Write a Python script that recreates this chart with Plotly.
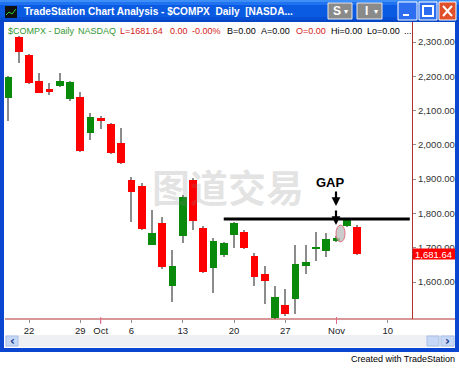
import plotly.graph_objects as go

# ---------------- data ----------------
dates = ["Sep 18", "Sep 19", "Sep 22", "Sep 23", "Sep 24", "Sep 25", "Sep 26",
         "Sep 29", "Sep 30", "Oct 1", "Oct 2", "Oct 3", "Oct 6", "Oct 7", "Oct 8",
         "Oct 9", "Oct 10", "Oct 13", "Oct 14", "Oct 15", "Oct 16", "Oct 17",
         "Oct 20", "Oct 21", "Oct 22", "Oct 23", "Oct 24", "Oct 27", "Oct 28",
         "Oct 29", "Oct 30", "Oct 31", "Nov 3", "Nov 4", "Nov 5"]
opens = [2136, 2314, 2262, 2187, 2163, 2172, 2133, 2139, 2034, 2078, 2061, 2005,
         1898, 1880, 1709, 1773, 1587, 1735, 1898, 1757, 1640, 1679, 1737, 1745,
         1676, 1624, 1494, 1533, 1550, 1648, 1698, 1689, 1721, 1762, 1760]
highs = [2201, 2318, 2264, 2209, 2180, 2211, 2186, 2153, 2094, 2084, 2064, 2048,
         1907, 1888, 1810, 1791, 1694, 1854, 1903, 1764, 1728, 1718, 1776, 1752,
         1684, 1647, 1587, 1579, 1708, 1708, 1747, 1742, 1735, 1785, 1766]
lows = [2070, 2238, 2178, 2150, 2145, 2168, 2128, 1980, 2014, 2045, 1974, 1945,
        1776, 1752, 1708, 1637, 1543, 1715, 1752, 1626, 1567, 1672, 1698, 1696,
        1589, 1536, 1493, 1500, 1507, 1624, 1660, 1674, 1716, 1760, 1680]
closes = [2199, 2272, 2180, 2152, 2155, 2187, 2182, 1983, 2082, 2070, 1976, 1948,
          1862, 1754, 1742, 1645, 1647, 1847, 1778, 1628, 1721, 1713, 1773, 1698,
          1616, 1604, 1555, 1507, 1652, 1658, 1701, 1725, 1728, 1781, 1681.64]

x_tick_idx = [2, 7, 9, 12, 17, 22, 27, 32, 37]
x_tick_text = ["22", "29", "Oct", "6", "13", "20", "27", "Nov", "10"]
y_ticks = [1600, 1700, 1800, 1900, 2000, 2100, 2200, 2300]
y_tick_text = ["1,600.00", "1,700.00", "1,800.00", "1,900.00",
               "2,000.00", "2,100.00", "2,200.00", "2,300.00"]
resistance = 1784
line_start_idx = 21   # Oct 17
gap_idx = 32          # Nov 3
last_price = closes[-1]

# status-line segments: (text, colour, left pixel)
status_text = ["$COMPX - Daily", "NASDAQ", f"L={last_price:.2f}", "0.00", "-0.00%",
               "B=0.00", "A=0.00", "O=0.00", "Hi=0.00", "Lo=0.00", "..."]
status_color = ["#339933", "#339933", "#d42020", "#d42020", "#d42020",
                "#000000", "#000000", "#d42020", "#000000", "#000000", "#000000"]
status_left = [6, 76, 118, 168, 190, 225, 259, 294, 329, 365, 402]

# ---------------- layout helpers ----------------
W, H = 459, 379
ML, MR, MT, MB = 5, 47, 22, 60
PW, PH = W - ML - MR, H - MT - MB


def px(x):
    return (x - ML) / PW


def py(y):
    return (H - MB - y) / PH


GREEN = "#0a8a0a"
RED = "#ff0000"
WICK = "#8c8c8c"
AXRED = "#b03030"
FONT = "Liberation Sans"

ymin = 2300 - (319 - 42) / (240 / 700)
ymax = 2300 + (42 - 22) / (240 / 700)
xmin = 2 + (5 - 29) / 10.25
xmax = 2 + (412 - 29) / 10.25


def price_to_paper(p):
    return (p - ymin) / (ymax - ymin)


def note(x, y, text, size, color, family=FONT, xanchor="center", **kw):
    d = dict(xref="paper", yref="paper", x=x, y=y, text=text, showarrow=False,
             xanchor=xanchor, yanchor="middle",
             font=dict(family=family, size=size, color=color))
    d.update(kw)
    return d


idx = list(range(len(dates)))
colors = [GREEN if c >= o else RED for o, c in zip(opens, closes)]
body_base = [min(o, c) for o, c in zip(opens, closes)]
body_h = [abs(c - o) for o, c in zip(opens, closes)]
wick_h = [h - l for h, l in zip(highs, lows)]

fig = go.Figure()
fig.add_trace(go.Bar(x=idx, y=wick_h, base=lows, width=0.1,
                     marker=dict(color=WICK, line=dict(width=0)),
                     hoverinfo="skip", showlegend=False))
fig.add_trace(go.Bar(x=idx, y=body_h, base=body_base, width=0.74,
                     marker=dict(color=colors, line=dict(width=0)),
                     hoverinfo="skip", showlegend=False))

shapes = []
ann = []

# title bar (gradient imitation)
for (y0, y1, c) in [(0, 2, "#3d8ef7"), (2, 5, "#1f72f0"), (5, 17, "#0a5ae2"),
                    (17, 20, "#0750d6"), (20, 22, "#0646c4")]:
    shapes.append(dict(type="rect", xref="paper", yref="paper",
                       x0=px(0), x1=px(W), y0=py(y1), y1=py(y0),
                       fillcolor=c, line=dict(width=0), layer="above"))
# window borders
border = "#0a46d0"
shapes.append(dict(type="rect", xref="paper", yref="paper", x0=px(0), x1=px(4),
                   y0=py(352), y1=py(22), fillcolor=border, line=dict(width=0), layer="above"))
shapes.append(dict(type="rect", xref="paper", yref="paper", x0=px(455), x1=px(459),
                   y0=py(352), y1=py(22), fillcolor=border, line=dict(width=0), layer="above"))
shapes.append(dict(type="rect", xref="paper", yref="paper", x0=px(0), x1=px(459),
                   y0=py(352), y1=py(348), fillcolor=border, line=dict(width=0), layer="above"))
# icon
shapes.append(dict(type="rect", xref="paper", yref="paper", x0=px(5), x1=px(17),
                   y0=py(18), y1=py(6), fillcolor="#101010", line=dict(width=0), layer="above"))
shapes.append(dict(type="path", xref="paper", yref="paper",
                   path=f"M{px(6)},{py(15)} L{px(9)},{py(12)} L{px(12)},{py(14)} L{px(16)},{py(9)}",
                   line=dict(color="#30d030", width=1), layer="above"))

# buttons S and I
for (x0, x1, t) in [(328, 352, "S"), (357, 382, "I")]:
    shapes.append(dict(type="rect", xref="paper", yref="paper", x0=px(x0), x1=px(x1),
                       y0=py(19), y1=py(3), fillcolor="#8a8a8a",
                       line=dict(color="#e8e8e8", width=1), layer="above"))
    ann.append(note(px(x0 + 9), py(11), f"<b>{t}</b>", 12, "white"))
    ann.append(note(px(x1 - 6), py(11), "▾", 8, "white", family="DejaVu Sans"))
# minimize / maximize / close
for (x0, x1, c) in [(398, 417, "#2d6ef0"), (419, 437, "#2d6ef0"), (439, 456, "#e0502a")]:
    shapes.append(dict(type="rect", xref="paper", yref="paper", x0=px(x0), x1=px(x1),
                       y0=py(20), y1=py(2), fillcolor=c,
                       line=dict(color="white", width=1), layer="above"))
shapes.append(dict(type="rect", xref="paper", yref="paper", x0=px(403), x1=px(409),
                   y0=py(16), y1=py(14), fillcolor="white", line=dict(width=0), layer="above"))
shapes.append(dict(type="rect", xref="paper", yref="paper", x0=px(423), x1=px(433),
                   y0=py(16), y1=py(6), fillcolor="rgba(0,0,0,0)",
                   line=dict(color="white", width=2), layer="above"))
shapes.append(dict(type="path", xref="paper", yref="paper",
                   path=f"M{px(443)},{py(6)} L{px(452)},{py(16)} M{px(452)},{py(6)} L{px(443)},{py(16)}",
                   line=dict(color="white", width=2), layer="above"))

# x axis red line across chart + price scale
shapes.append(dict(type="line", xref="paper", yref="paper", x0=px(5), x1=px(455),
                   y0=py(319), y1=py(319), line=dict(color=AXRED, width=1), layer="above"))
# month ticks (pink)
for i, t in zip(x_tick_idx, x_tick_text):
    if t in ("Oct", "Nov"):
        shapes.append(dict(type="line", xref="x", yref="paper", x0=i, x1=i,
                           y0=py(324), y1=py(317), line=dict(color="#e06a8a", width=1),
                           layer="above"))

# scrollbar
shapes.append(dict(type="rect", xref="paper", yref="paper", x0=px(5), x1=px(455),
                   y0=py(347), y1=py(335), fillcolor="#eef0f4", line=dict(width=0), layer="above"))
for (x0, x1) in [(6, 18), (427, 439), (441, 454)]:
    shapes.append(dict(type="rect", xref="paper", yref="paper", x0=px(x0), x1=px(x1),
                       y0=py(346), y1=py(336), fillcolor="#c6d8f6",
                       line=dict(color="#a8c0e8", width=1), layer="above"))
ann.append(note(px(12), py(341), "<b>‹</b>", 12, "#1a3a8a", family="DejaVu Sans"))
ann.append(note(px(447.5), py(341), "<b>›</b>", 12, "#1a3a8a", family="DejaVu Sans"))

# resistance line
shapes.append(dict(type="line", xref="x", yref="y", x0=line_start_idx, x1=39.15,
                   y0=resistance, y1=resistance, line=dict(color="black", width=3), layer="above"))
# gap ellipse
shapes.append(dict(type="circle", xref="x", yref="y", x0=gap_idx - 0.05, x1=gap_idx + 0.83,
                   y0=closes[gap_idx] - 11, y1=opens[gap_idx + 1] + 4,
                   fillcolor="rgba(190,190,190,0.8)", line=dict(color="#e07080", width=1),
                   layer="above"))
# last price box (price scale is outside the plot area -> paper coords from the y range)
shapes.append(dict(type="rect", xref="paper", yref="paper", x0=px(413), x1=px(455),
                   y0=price_to_paper(last_price - 16), y1=price_to_paper(last_price + 16),
                   fillcolor="#ff0000", line=dict(width=0), layer="above"))
ann.append(note(px(434), price_to_paper(last_price), f"{last_price:,.2f}", 9.5, "white"))

# watermark (semi-transparent, on top like the original)
ann.append(note(px(228), py(185), "<b>图道交易</b>", 38, "rgba(128,128,128,0.22)",
                family="Noto Sans CJK SC"))

# title
ann.append(note(px(22), py(11.5),
                "<b>TradeStation Chart Analysis - $COMPX\u00a0 Daily\u00a0 [NASDA...</b>",
                10.1, "white", xanchor="left"))

# status line
for t, c, x in zip(status_text, status_color, status_left):
    ann.append(note(px(x), py(31), t, 9, c, xanchor="left"))

# GAP label and arrows
ann.append(note(px(330), py(182), "<b>GAP</b>", 13, "black"))
for tip in (206, 225):
    ann.append(dict(xref="paper", yref="paper", x=px(336), y=py(tip), text="", ax=0, ay=-16,
                    showarrow=True, arrowhead=2, arrowsize=0.8, arrowwidth=2.2,
                    arrowcolor="black"))

# footer
ann.append(note(px(457), py(359), "Created with TradeStation", 9, "black", xanchor="right"))

fig.update_layout(
    width=W, height=H, margin=dict(l=ML, r=MR, t=MT, b=MB),
    paper_bgcolor="white", plot_bgcolor="white",
    barmode="overlay", bargap=0, showlegend=False,
    shapes=shapes, annotations=ann,
    xaxis=dict(range=[xmin, xmax], tickmode="array", tickvals=x_tick_idx, ticktext=x_tick_text,
               ticks="outside", ticklen=3, tickcolor="#909090", showgrid=False,
               zeroline=False, showline=False,
               tickfont=dict(family=FONT, size=9.5, color="#222222")),
    yaxis=dict(range=[ymin, ymax], side="right", tickmode="array", tickvals=y_ticks,
               ticktext=y_tick_text, ticks="outside", ticklen=3, tickcolor="#909090",
               showgrid=False, zeroline=False, showline=True, linecolor=AXRED, linewidth=1,
               tickfont=dict(family=FONT, size=9.5, color="#333333")),
)

fig.write_html("out.html", config={"displayModeBar": False},
               post_script="document.body.style.margin='0px';document.body.style.overflow='hidden';")
